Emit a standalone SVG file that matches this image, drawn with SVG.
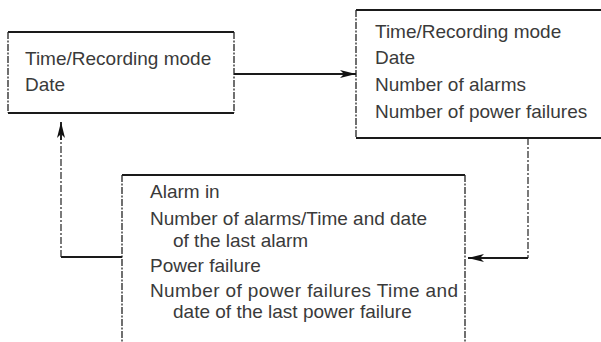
<svg xmlns="http://www.w3.org/2000/svg" width="601" height="342" viewBox="0 0 601 342">
<style>
.edge{stroke:#1a1a1a;stroke-width:2;fill:none}
.side{stroke:#222;stroke-width:1.3;fill:none;stroke-dasharray:7 1.5 2 1.5}
.t{font-family:"Liberation Sans",Arial,sans-serif;font-size:19px;fill:#3a3a3a}
.conn{stroke:#1a1a1a;stroke-width:1.8;fill:none}
.dash{stroke:#222;stroke-width:1.2;fill:none;stroke-dasharray:7 2 2 2}
</style>
<defs>
<marker id="ah" markerUnits="userSpaceOnUse" markerWidth="18" markerHeight="10" refX="16" refY="5" orient="auto">
<path d="M0,1 L16,5 L0,9 L4,5 Z" fill="#111"/>
</marker>
</defs>
<rect width="601" height="342" fill="#fff"/>
<g id="node1">
<path class="edge" d="M8,32 H234 M8,113 H234"/>
<path class="side" d="M8,32 V113 M234,32 V113"/>
<text class="t" x="25" y="65">Time/Recording mode</text>
<text class="t" x="25" y="91">Date</text>
</g>
<g id="node2">
<path class="edge" d="M356,10 H610 M356,138 H610"/>
<path class="side" d="M356,10 V138"/>
<text class="t" x="375" y="38">Time/Recording mode</text>
<text class="t" x="375" y="64">Date</text>
<text class="t" x="375" y="91">Number of alarms</text>
<text class="t" x="375" y="118">Number of power failures</text>
</g>
<g id="node3">
<path class="edge" d="M122,175 H465"/>
<path class="side" d="M122,175 V350 M465,175 V350"/>
<text class="t" x="150" y="198">Alarm in</text>
<text class="t" x="150" y="225">Number of alarms/Time and date</text>
<text class="t" x="173" y="247">of the last alarm</text>
<text class="t" x="150" y="272">Power failure</text>
<text class="t" x="150" y="297" textLength="308" lengthAdjust="spacing">Number of power failures Time and</text>
<text class="t" x="173" y="318">date of the last power failure</text>
</g>
<g id="connectors">
<path class="conn" d="M234,74 H356" marker-end="url(#ah)"/>
<path class="dash" d="M528,138 V258"/>
<path class="conn" d="M528,258 H468" marker-end="url(#ah)"/>
<path class="conn" d="M122,257 H61"/>
<path class="dash" d="M61,257 V135"/>
<path class="conn" d="M61,140 V122" marker-end="url(#ah)"/>
</g>
</svg>
